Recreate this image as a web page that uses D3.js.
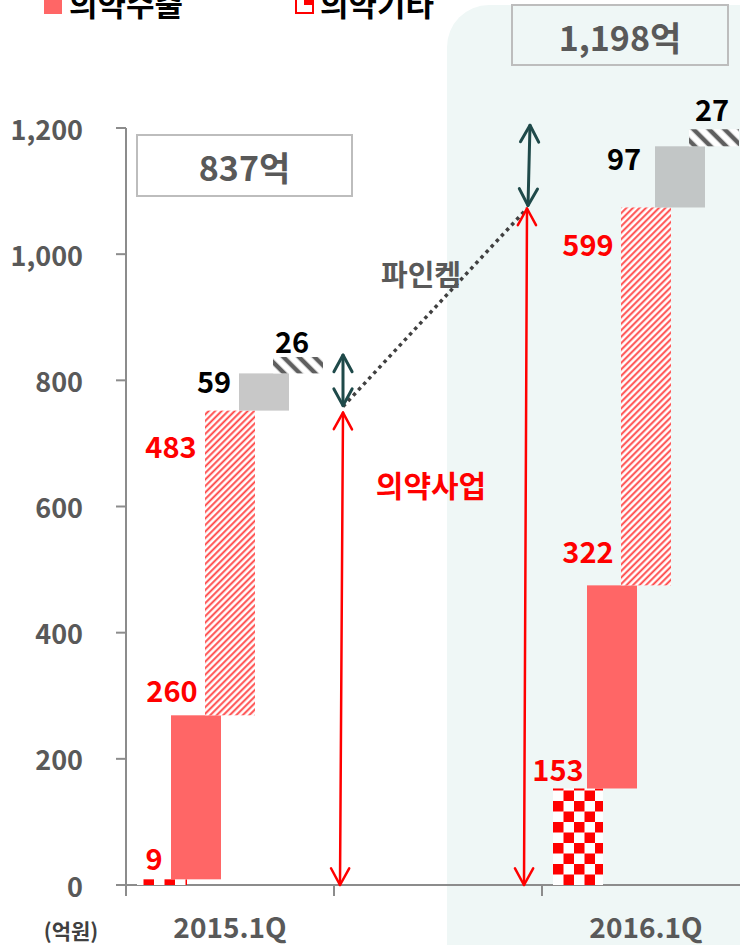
<!DOCTYPE html>
<html><head><meta charset="utf-8">
<script src="https://cdn.jsdelivr.net/npm/d3@7/dist/d3.min.js"></script>
<style>
html,body{margin:0;padding:0;background:#fff;}
svg{display:block;font-family:'Noto Sans CJK KR','Noto Sans',sans-serif;font-weight:bold;}
</style></head>
<body>
<svg id="chart" width="740" height="945"></svg>
<script>
// ---- data ----
const categories = ["2015.1Q", "mid", "2016.1Q"];
const categoryLabels = ["2015.1Q", "", "2016.1Q"];
const seriesKeys = ["의약기타", "의약수출", "의약내수", "파인켐", "기타"];
const values2015 = [9, 260, 483, 59, 26];
const values2016 = [153, 322, 599, 97, 27];
const totals = ["837억", "1,198억"];
const yTicks = [0, 200, 400, 600, 800, 1000, 1200];
const legendItems = ["의약수출", "의약기타"];
const unitLabel = "(억원)";
const bizLabel = "의약사업";
const fineLabel = "파인켐";

// ---- layout ----
const svg = d3.select("#chart");
const W = 740, H = 945;
const y = d3.scaleLinear().domain([0, 1200]).range([885, 128]);
const x = d3.scaleBand().domain(categories).range([126, 750]).padding(0);
const barW = 50, barStep = 34;
const fills = ["url(#checker)", "#FF6666", "url(#redHatch)", "#C8C8C8", "url(#grayHatch)"];
const fills2016 = ["url(#checker)", "#FF6666", "url(#redHatch)", "#C2C6C6", "url(#grayHatch)"];
// label nudges (dx from bar centre, dy from bar top)
const labelNudge2015 = [[-8,-22],[-24,-26],[-59,34],[-50,7],[-6,-17]];
const labelNudge2016 = [[-20,-20],[-24,-35],[-58,36],[-56,11],[-2,-21]];
const labelColors = ["#FF0000","#FF0000","#FF0000","#000","#000"];

// ---- defs ----
const defs = svg.append("defs");
const chk = defs.append("pattern").attr("id","checker").attr("patternUnits","userSpaceOnUse")
  .attr("width",21).attr("height",21).attr("x",553).attr("y",885);
chk.append("rect").attr("width",21).attr("height",21).attr("fill","#fff");
chk.append("rect").attr("x",0).attr("y",0).attr("width",10.5).attr("height",10.5).attr("fill","#FF0000");
chk.append("rect").attr("x",10.5).attr("y",10.5).attr("width",10.5).attr("height",10.5).attr("fill","#FF0000");

const rh = defs.append("pattern").attr("id","redHatch").attr("patternUnits","userSpaceOnUse")
  .attr("width",4.6).attr("height",4.6).attr("patternTransform","rotate(45)");
rh.append("rect").attr("width",4.6).attr("height",4.6).attr("fill","#fff");
rh.append("line").attr("x1",1.2).attr("y1",-1).attr("x2",1.2).attr("y2",6).attr("stroke","#FF4545").attr("stroke-width",1.9);

const gh = defs.append("pattern").attr("id","grayHatch").attr("patternUnits","userSpaceOnUse")
  .attr("width",11).attr("height",11).attr("patternTransform","rotate(-45)");
gh.append("rect").attr("width",11).attr("height",11).attr("fill","#fff");
gh.append("line").attr("x1",3).attr("y1",-1).attr("x2",3).attr("y2",12).attr("stroke","#5F5F5F").attr("stroke-width",4.5);

// ---- background panel ----
svg.append("rect").attr("x",447).attr("y",5).attr("width",340).attr("height",990)
  .attr("rx",42).attr("fill","#EFF7F6");

// ---- total boxes ----
const boxes = [
  {x:137, y:135, w:215, h:61, fill:"#fff", text:totals[0]},
  {x:512, y:5, w:216, h:60, fill:"#EFF7F6", text:totals[1]}
];
boxes.forEach(b=>{
  svg.append("rect").attr("x",b.x).attr("y",b.y).attr("width",b.w).attr("height",b.h)
    .attr("fill",b.fill).attr("stroke","#BDBDBD").attr("stroke-width",2);
  svg.append("text").attr("x",b.x+b.w/2).attr("y",b.y+b.h/2+1).attr("text-anchor","middle")
    .attr("dominant-baseline","central").attr("font-size",34).attr("fill","#595959").text(b.text);
});

// ---- axes ----
const axisColor = "#8C8C8C";
svg.append("line").attr("x1",126).attr("x2",126).attr("y1",y(1200)).attr("y2",y(0))
  .attr("stroke",axisColor).attr("stroke-width",2);
svg.append("line").attr("x1",116).attr("x2",W).attr("y1",y(0)).attr("y2",y(0))
  .attr("stroke",axisColor).attr("stroke-width",2);
yTicks.forEach(t=>{
  svg.append("line").attr("x1",116).attr("x2",126).attr("y1",y(t)).attr("y2",y(t))
    .attr("stroke",axisColor).attr("stroke-width",2);
  svg.append("text").attr("x",83).attr("y",y(t)).attr("text-anchor","end")
    .attr("dominant-baseline","central").attr("font-size",27).attr("fill","#595959")
    .text(d3.format(",")(t));
});
categories.forEach((c,i)=>{
  const x0 = x(c);
  svg.append("line").attr("x1",x0).attr("x2",x0).attr("y1",y(0)).attr("y2",y(0)+11)
    .attr("stroke",axisColor).attr("stroke-width",2);
  if (categoryLabels[i]) {
    svg.append("text").attr("x",x0+x.bandwidth()/2).attr("y",926).attr("text-anchor","middle")
      .attr("dominant-baseline","central").attr("font-size",28).attr("fill","#595959")
      .text(categoryLabels[i]);
  }
});
svg.append("text").attr("x",71).attr("y",930).attr("text-anchor","middle")
  .attr("dominant-baseline","central").attr("font-size",21).attr("fill","#404040").text(unitLabel);

// ---- bars ----
function drawGroup(cat, vals, fillArr, nudges){
  const cx = x(cat) + x.bandwidth()/2;
  const ends = d3.cumsum(vals);
  vals.forEach((v,i)=>{
    const start = ends[i]-v, end = ends[i];
    const bc = cx + (i-2)*barStep;
    svg.append("rect").attr("x",bc-barW/2).attr("y",y(end)).attr("width",barW)
      .attr("height",y(start)-y(end)).attr("fill",fillArr[i]);
    svg.append("text").attr("x",bc+nudges[i][0]).attr("y",y(end)+nudges[i][1])
      .attr("text-anchor","middle").attr("dominant-baseline","central")
      .attr("font-size",29).attr("fill",labelColors[i]).text(v);
  });
  return ends;
}
const e15 = drawGroup(categories[0], values2015, fills, labelNudge2015);
const e16 = drawGroup(categories[2], values2016, fills2016, labelNudge2016);

// ---- arrows ----
function dblArrow(x1,y1,x2,y2,color,sw){
  const g = svg.append("g").attr("stroke",color).attr("stroke-width",sw).attr("fill","none")
    .attr("stroke-linecap","round").attr("stroke-linejoin","round");
  g.append("line").attr("x1",x1).attr("y1",y1).attr("x2",x2).attr("y2",y2);
  const ang = Math.atan2(y2-y1,x2-x1);
  [[x1,y1,ang+Math.PI],[x2,y2,ang]].forEach(([tx,ty,a])=>{
    const L=19, s=0.5;
    const p1=[tx-L*Math.cos(a-s), ty-L*Math.sin(a-s)];
    const p2=[tx-L*Math.cos(a+s), ty-L*Math.sin(a+s)];
    g.append("path").attr("d",`M${p1[0]},${p1[1]}L${tx},${ty}L${p2[0]},${p2[1]}`);
  });
}
const mid0 = x(categories[1]);
const sub15 = e15[2], sub16 = e16[2];
const tot15 = e15[4], tot16 = e16[4];
const ax1 = mid0 + 7, ax2 = mid0 + 191;
// dotted link
svg.append("line").attr("x1",ax1+2).attr("y1",y(sub15)-4).attr("x2",ax2+2).attr("y2",y(sub16)+1)
  .attr("stroke","#404040").attr("stroke-width",3.5).attr("stroke-dasharray","3.5,4");
dblArrow(ax1-1, y(0), ax1+2, y(sub15)+2, "#FF0000", 2.5);
dblArrow(ax2-1, y(0), ax2+2, y(sub16)+1, "#FF0000", 2.5);
dblArrow(ax1+2, y(sub15)-5, ax1+2, y(tot15)-2, "#1F4A4A", 3);
dblArrow(ax2+3, y(sub16)-2, ax2+5, y(tot16)-4, "#1F4A4A", 3);

svg.append("text").attr("x",431).attr("y",484).attr("text-anchor","middle")
  .attr("dominant-baseline","central").attr("font-size",30).attr("fill","#FF0000").text(bizLabel);
svg.append("text").attr("x",421).attr("y",273).attr("text-anchor","middle")
  .attr("dominant-baseline","central").attr("font-size",29).attr("fill","#595959").text(fineLabel);

// ---- legend (cut off at top) ----
svg.append("rect").attr("x",44).attr("y",-4).attr("width",18).attr("height",18).attr("fill","#FF6666");
svg.append("text").attr("x",69).attr("y",16).attr("font-size",31).attr("fill","#000").text(legendItems[0]);
const lg = svg.append("g");
lg.append("rect").attr("x",296).attr("y",-4).attr("width",17).attr("height",17).attr("fill","#fff")
  .attr("stroke","#FF0000").attr("stroke-width",2);
lg.append("rect").attr("x",304).attr("y",-4).attr("width",9).attr("height",9).attr("fill","#FF0000");
svg.append("text").attr("x",320).attr("y",16).attr("font-size",31).attr("fill","#000").text(legendItems[1]);
</script>
</body></html>
